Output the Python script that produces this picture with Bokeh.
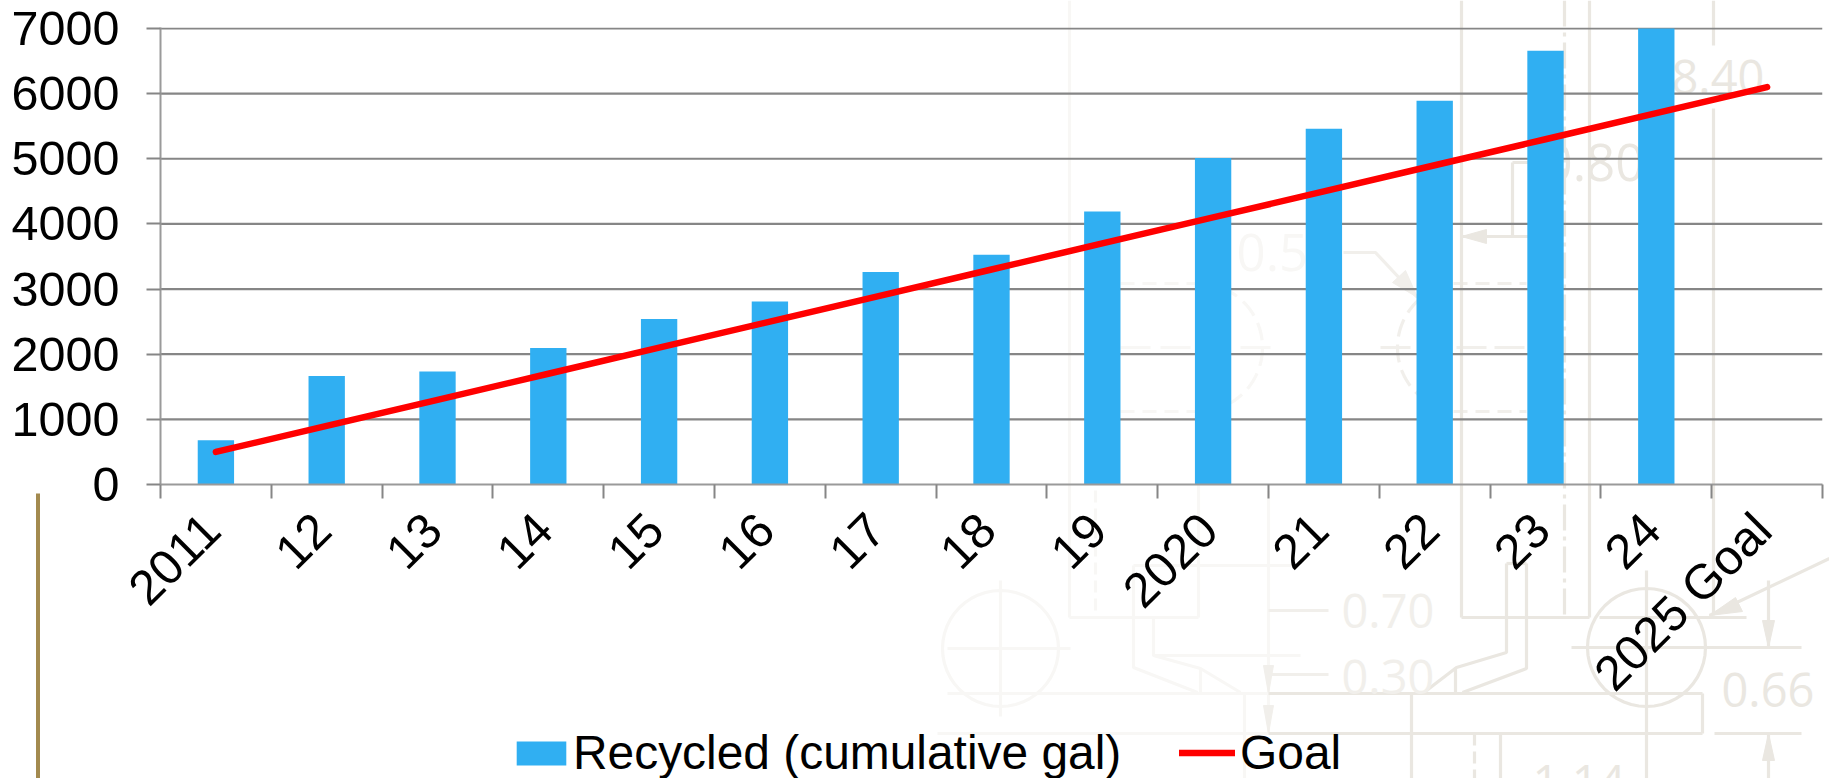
from math import pi, cos, sin
from bokeh.core.properties import value
from bokeh.embed import file_html
from bokeh.resources import INLINE
from bokeh.models import (ColumnDataSource, FixedTicker, Legend, LegendItem, LinearAxis,
                          Range1d, NumeralTickFormatter, Span)
from bokeh.plotting import figure

categories = ["2011", "12", "13", "14", "15", "16", "17", "18", "19", "2020", "21", "22", "23", "24", "2025 Goal"]
recycled = [680, 1665, 1735, 2095, 2540, 2810, 3260, 3525, 4190, 5010, 5460, 5890, 6660, 7000, None]
goal = [500, 900, 1300, 1700, 2100, 2500, 2900, 3300, 3700, 4100, 4500, 4900, 5300, 5700, 6100]
y_ticks = [0, 1000, 2000, 3000, 4000, 5000, 6000, 7000]
series_names = ["Recycled (cumulative gal)", "Goal"]

BLUE = "#30AFF2"
RED = "#FF0000"
AXIS = "#868686"
FONT = "Liberation Sans"
SIZE = "48.5px"
W, H = 1829, 778

n = len(categories)
xc = [i + 0.5 for i in range(n)]

# ---------- back sheet: faint drawing, gold rule and legend, in page pixels ----------
back = figure(width=W, height=H, output_backend="svg", toolbar_location=None,
              x_range=Range1d(0, W), y_range=Range1d(H, 0), x_axis_type=None, y_axis_type=None,
              min_border=0, outline_line_color=None)
back.xgrid.visible = False
back.ygrid.visible = False

C_FAINT = "#F8F7F5"
C_MID = "#F1EFEB"
C_DARK = "#EAE7E1"


def path(pts, color=C_DARK, w=3.2, dash="solid", fill=None):
    xs = [x for x, _ in pts]
    ys = [y for _, y in pts]
    if fill:
        back.patch(xs, ys, fill_color=fill, line_color=color)
    else:
        back.line(xs, ys, line_color=color, line_width=w, line_dash=dash)


def arc(cx, cy, r, a0, a1, m=48, **kw):
    path([(cx + r * cos(a0 + (a1 - a0) * i / m), cy + r * sin(a0 + (a1 - a0) * i / m)) for i in range(m + 1)], **kw)


def word(t, x, top, size, color=C_DARK):
    back.text([x], [top], text=[t], text_color=color, text_font_size=size, text_font=value("Open Sans"),
              text_baseline="top", text_align="left")


# left, palest part
arc(1000, 648, 58, 0, 2 * pi, color=C_FAINT)
for seg in [[(947, 648), (1070, 648)], [(1000, 580), (1000, 716)], [(947, 693), (1268, 693)],
            [(937, 733), (1268, 733)], [(1069, 0), (1069, 617)], [(1069, 617), (1198, 617)],
            [(1198, 300), (1198, 617)], [(1133, 565), (1293, 565)], [(1200, 668), (1200, 692)],
            [(1153, 655), (1300, 655)], [(1268, 490), (1268, 733)], [(1244, 693), (1244, 778)]]:
    path(seg, color=C_FAINT)
path([(1095, 490), (1095, 617)], color=C_FAINT, dash="12 6")
path([(1133, 565), (1133, 667), (1197, 692)], color=C_FAINT)
path([(1153, 617), (1153, 655), (1200, 668), (1240, 692)], color=C_FAINT)
path([(1268, 610), (1328, 610)], color=C_MID)
path([(1268, 674), (1328, 674)], color=C_MID)

# middle dashed circles
arc(1198, 347, 64, -pi / 2.6, pi / 2.6, color=C_FAINT, dash="18 8")
arc(1461, 347, 64, pi / 1.5, pi * 1.35, color=C_MID, dash="18 8")
path([(1120, 283), (1198, 283)], color=C_FAINT, dash="14 8")
path([(1120, 411), (1198, 411)], color=C_FAINT, dash="14 8")
path([(1120, 347), (1275, 347)], color=C_FAINT, dash="30 10")
path([(1453, 283), (1526, 283)], color=C_MID, dash="14 8")
path([(1453, 411), (1526, 411)], color=C_MID, dash="14 8")
path([(1380, 347), (1530, 347)], color=C_MID, dash="30 8")
path([(1343, 252), (1375, 252), (1417, 297)], color=C_MID)
path([(1417, 297), (1392, 282), (1405, 270)], color=C_MID, fill=C_MID)
word("0.5", 1236, 233, "51px", C_FAINT)

# right, stronger part
for seg in [[(1461, 0), (1461, 617)], [(1461, 617), (1589, 617)], [(1589, 0), (1589, 617)],
            [(1713, 0), (1713, 45)], [(1713, 108), (1713, 615)], [(1512, 162), (1512, 236)],
            [(1512, 162), (1528, 162)], [(1461, 236), (1530, 236)], [(1506, 563), (1526, 563)],
            [(1268, 693), (1702, 693)], [(1268, 733), (1702, 733)], [(1702, 693), (1702, 733)],
            [(1455, 667), (1455, 692)], [(1411, 693), (1411, 778)], [(1646, 570), (1646, 778)],
            [(1571, 647), (1801, 647)], [(1599, 617), (1746, 617)], [(1829, 558), (1709, 615)],
            [(1768, 580), (1768, 647)], [(1714, 733), (1801, 733)], [(1768, 733), (1768, 778)],
            [(1500, 733), (1500, 778)]]:
    path(seg)
path([(1564, 0), (1564, 617)], dash="26 6 4 6")
path([(1474, 733), (1474, 778)], dash="12 6")
path([(1506, 563), (1506, 652), (1456, 667), (1426, 690)])
path([(1526, 563), (1526, 668), (1462, 692)])
arc(1646, 647, 59, 0, 2 * pi, color=C_DARK)
path([(1461, 236), (1486, 229), (1486, 243)], fill=C_DARK)
path([(1709, 615), (1735, 597), (1742, 611)], fill=C_DARK)
path([(1768, 647), (1762, 620), (1774, 620)], fill=C_DARK)
path([(1768, 733), (1762, 760), (1774, 760)], fill=C_DARK)
path([(1268, 693), (1263, 665), (1273, 665)], color=C_MID, fill=C_MID)
path([(1268, 733), (1263, 705), (1273, 705)], color=C_MID, fill=C_MID)
word("8.40", 1671, 59, "47px")
word("0.80", 1543, 143, "51px")
word("0.70", 1341, 593, "47px", C_MID)
word("0.30", 1341, 659, "47px", C_MID)
word("0.66", 1721, 672, "47px")
word("1.14", 1532, 764, "47px")

# gold rule at the left
path([(37.5, 493), (37.5, 778)], color="#A38A4F", w=4)

# legend keys share the look of the chart's marks (hidden here, the chart draws the marks)
key_src = ColumnDataSource(dict(x=xc, recycled=recycled, goal=goal))
key_bar = back.vbar(x="x", top="recycled", width=1, source=key_src, fill_color=BLUE, line_color=None, visible=False)
key_line = back.line(x="x", y="goal", source=key_src, line_color=RED, line_width=6.5, line_cap="round", visible=False)
legend_style = dict(orientation="horizontal", background_fill_alpha=0, border_line_color=None,
                    label_text_font=FONT, label_text_font_size="47.9px", label_text_color="#000000",
                    padding=0, margin=0, label_height=50)
back.add_layout(Legend(items=[LegendItem(label=series_names[0], renderers=[key_bar])], location=(510, -2),
                       glyph_width=62, glyph_height=30, label_standoff=1, **legend_style), "center")
back.add_layout(Legend(items=[LegendItem(label=series_names[1], renderers=[key_line])], location=(1179, -2),
                       glyph_width=56, glyph_height=25, label_standoff=5, **legend_style), "center")

# ---------- chart, lying over the back sheet ----------
FRAME_BOTTOM = 484
p = figure(width=W, height=H, output_backend="svg", toolbar_location=None,
           x_range=Range1d(0, n), y_range=Range1d(0, 7015),
           x_axis_type=None, y_axis_type=None,
           min_border_left=160, min_border_top=27, min_border_bottom=H - FRAME_BOTTOM, min_border_right=7,
           outline_line_color=None, styles={"position": "absolute", "top": "0px", "left": "0px"})
p.background_fill_alpha = 0
p.border_fill_alpha = 0
p.xgrid.visible = False
p.ygrid.visible = False

for v in y_ticks[1:]:
    p.add_layout(Span(location=v, dimension="width", line_color=AXIS, line_width=2.2, level="underlay"))

src = ColumnDataSource(dict(x=xc, recycled=recycled, goal=goal))
p.vbar(x="x", top="recycled", bottom=0, width=0.328, source=src, fill_color=BLUE, line_color=None)
p.line(x="x", y="goal", source=src, line_color=RED, line_width=6.5, line_cap="round")

yaxis = LinearAxis(ticker=FixedTicker(ticks=y_ticks), formatter=NumeralTickFormatter(format="0"),
                   axis_line_color="#9A9A9A", axis_line_width=2,
                   major_tick_line_color=AXIS, major_tick_line_width=2, major_tick_out=14, major_tick_in=0,
                   minor_tick_line_color=None, major_label_standoff=27,
                   major_label_text_font=FONT, major_label_text_font_size=SIZE,
                   major_label_text_color="#000000")
p.add_layout(yaxis, "left")
xlabel_pos = [x - 0.04 for x in xc]
xaxis = LinearAxis(ticker=FixedTicker(ticks=xlabel_pos, minor_ticks=list(range(n + 1))),
                   major_label_overrides={x: c for x, c in zip(xlabel_pos, categories)},
                   axis_line_color="#9A9A9A", axis_line_width=2,
                   major_tick_line_color=None, major_tick_out=0, major_tick_in=0,
                   minor_tick_line_color=AXIS, minor_tick_line_width=2, minor_tick_out=14, minor_tick_in=0,
                   major_label_orientation=pi / 4, major_label_standoff=23,
                   major_label_text_font=FONT, major_label_text_font_size="49px",
                   major_label_text_color="#000000")
p.add_layout(xaxis, "below")

open("out.html", "w").write(file_html([back, p], INLINE))
